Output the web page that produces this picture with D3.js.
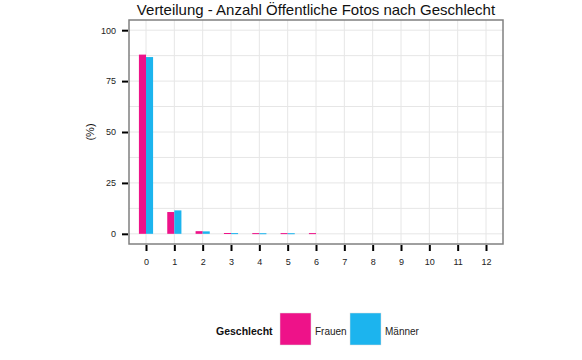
<!DOCTYPE html>
<html><head><meta charset="utf-8">
<script src="https://cdn.jsdelivr.net/npm/d3@7"></script>
<style>body{margin:0;background:#fff}svg{display:block}</style>
</head><body>
<script>
const categories = ["0","1","2","3","4","5","6","7","8","9","10","11","12"];
const frauen = [88, 10.7, 1.3, 0.4, 0.35, 0.35, 0.35, 0, 0, 0, 0, 0, 0];
const maenner = [86.8, 11.5, 1.2, 0.35, 0.3, 0.3, 0, 0, 0, 0, 0, 0, 0];
const seriesNames = ["Frauen", "Männer"];
const colors = ["#EE1289", "#1CB4EE"];
const yTicks = [0, 25, 50, 75, 100];
const yMinor = [12.5, 37.5, 62.5, 87.5];

const W = 582, H = 360;
const m = {l:129, r:503, t:20, b:244};
const svg = d3.select("body").append("svg").attr("width", W).attr("height", H);
const font = "Arial, 'Liberation Sans', sans-serif";

const x = d3.scalePoint().domain(categories).range([m.l, m.r]).padding(0.6);
const step = x.step();
const x1 = d3.scaleBand().domain(seriesNames).range([-step*0.25, step*0.25]);
const y = d3.scaleLinear().domain([-5, 105]).range([m.b, m.t]);

// grid
const g = svg.append("g");
g.selectAll("line.hm").data(yTicks.concat(yMinor)).join("line")
  .attr("x1", m.l).attr("x2", m.r).attr("y1", d=>y(d)).attr("y2", d=>y(d))
  .attr("stroke", "#E6E6E6").attr("stroke-width", 1);
g.selectAll("line.v").data(categories).join("line")
  .attr("x1", d=>x(d)).attr("x2", d=>x(d)).attr("y1", m.t).attr("y2", m.b)
  .attr("stroke", "#E6E6E6").attr("stroke-width", 1);

// bars
const rows = categories.map((c,i)=>({c, vals:[frauen[i], maenner[i]]}));
const bars = svg.append("g");
rows.forEach(r=>{
  r.vals.forEach((v,j)=>{
    if (v <= 0) return;
    bars.append("rect")
      .attr("x", x(r.c) + x1(seriesNames[j]))
      .attr("width", x1.bandwidth())
      .attr("y", y(v))
      .attr("height", Math.max(y(0)-y(v), 1))
      .attr("fill", colors[j]);
  });
});

// border
svg.append("rect").attr("x", m.l).attr("y", m.t).attr("width", m.r-m.l).attr("height", m.b-m.t)
  .attr("fill","none").attr("stroke","#808080").attr("stroke-width",1.5);

// axes
const yAxis = svg.append("g").attr("transform", `translate(${m.l-1},0)`)
  .call(d3.axisLeft(y).tickValues(yTicks).tickSize(6).tickPadding(6));
const xAxis = svg.append("g").attr("transform", `translate(0,${m.b+1})`)
  .call(d3.axisBottom(x).tickSize(6).tickPadding(8));
[yAxis, xAxis].forEach(a=>{
  a.select(".domain").remove();
  a.selectAll(".tick line").attr("stroke","#000").attr("stroke-width",2);
  a.selectAll(".tick text").attr("font-family", font).attr("font-size", 9).attr("fill","#222");
});

// y title
svg.append("text").attr("transform", `translate(94,${(m.t+m.b)/2}) rotate(-90)`)
  .attr("text-anchor","middle").attr("font-family", font).attr("font-size", 11).attr("fill","#111").text("(%)");

// title
svg.append("text").attr("x", (m.l+m.r)/2).attr("y", 15).attr("text-anchor","middle")
  .attr("font-family", font).attr("font-size", 15).attr("fill","#111")
  .text("Verteilung - Anzahl Öffentliche Fotos nach Geschlecht");

// legend
const leg = svg.append("g");
leg.append("text").attr("x", 216).attr("y", 331).attr("dy","0.35em")
  .attr("font-family", font).attr("font-size", 10.5).attr("font-weight","bold").attr("fill","#111").text("Geschlecht");
const lx = [280, 350];
seriesNames.forEach((s,j)=>{
  leg.append("rect").attr("x", lx[j]).attr("y", 313).attr("width", 31).attr("height", 32)
    .attr("fill", colors[j]).attr("stroke","#ddd").attr("stroke-width",0.5);
  leg.append("text").attr("x", lx[j]+35).attr("y", 331).attr("dy","0.35em")
    .attr("font-family", font).attr("font-size", 10).attr("fill","#222").text(s);
});
</script>
</body></html>
